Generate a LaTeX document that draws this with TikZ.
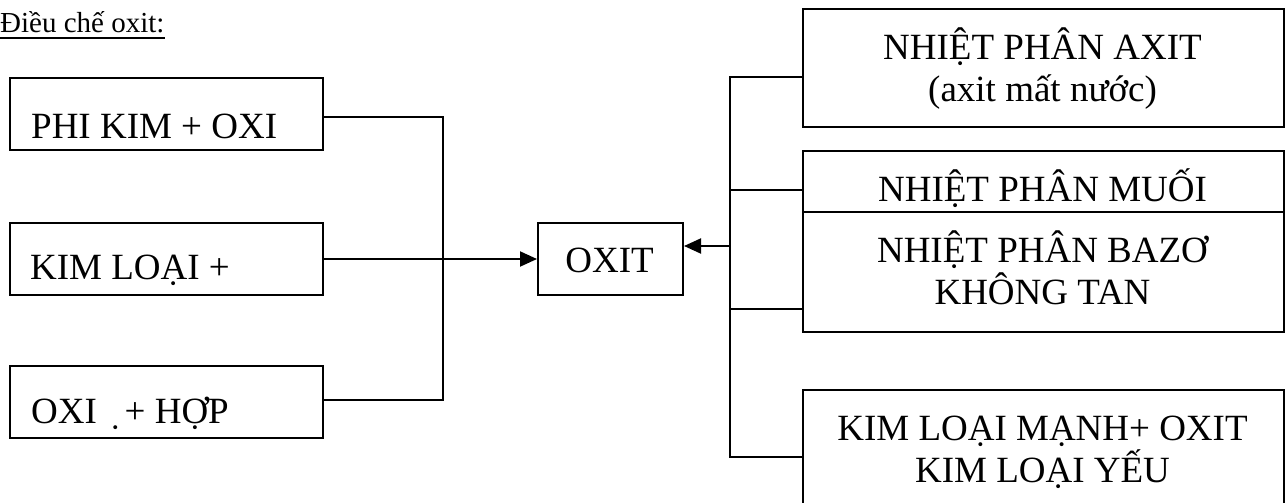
\documentclass[tikz,border=0pt]{standalone}
\usepackage{fontspec}
\setmainfont{Liberation Serif}
\usetikzlibrary{arrows.meta}
\tikzset{
  box/.style={draw, line width=2pt, inner sep=0pt, anchor=north west},
  wire/.style={line width=2pt, line cap=rect},
  arr/.style={line width=2pt, -{Triangle[length=17pt,width=15pt]}},
  lbl/.style={inner sep=0pt, font=\fontsize{37}{42}\selectfont},
  clbl/.style={lbl, anchor=base, align=center},
  llbl/.style={lbl, anchor=base west},
}
\begin{document}
\begin{tikzpicture}[x=1pt,y=-1pt]
\useasboundingbox (0,0) rectangle (1287,503);
% title
\node[inner sep=0pt, anchor=base west, font=\fontsize{29}{34}\selectfont] (title) at (0,33) {Điều chế oxit:};
\draw[line width=2.5pt] ([yshift=-5pt]title.base west) -- ([yshift=-5pt]title.base east);
% left boxes
\node[box, minimum width=313pt, minimum height=72pt] (b1) at (9,77) {};
\node[box, minimum width=313pt, minimum height=72pt] (b2) at (9,222) {};
\node[box, minimum width=313pt, minimum height=72pt] (b3) at (9,365) {};
\node[llbl] (t1) at (31,138) {PHI KIM + OXI};
\node[llbl] (t2) at (30,279) {KIM LOẠI +};
\node[llbl] (t3) at (31,423) {OXI \symbol{"00A0}\symbol{"0323} + HỢP};
% centre
\node[box, minimum width=145pt, minimum height=72pt] (ox) at (537,222) {};
\node[clbl] (tox) at (609.5,272) {OXIT};
% right boxes
\node[box, minimum width=481pt, minimum height=118pt] (ax) at (802,8) {};
\node[box, minimum width=481pt, minimum height=61pt] (mu) at (802,150) {};
\node[box, minimum width=481pt, minimum height=120pt] (bz) at (802,211) {};
\node[box, minimum width=481pt, minimum height=140pt] (kl) at (802,389) {};
\node[clbl] (tax) at (1042.5,101) {NHIỆT PHÂN AXIT\\(axit mất nước)};
\node[clbl] (tmu) at (1042.5,201) {NHIỆT PHÂN MUỐI};
\node[clbl] (tbz) at (1042.5,304) {NHIỆT PHÂN BAZƠ\\KHÔNG TAN};
\node[clbl] (tkl) at (1042.5,482) {KIM LOẠI MẠNH+ OXIT\\KIM LOẠI YẾU};
% junctions
\coordinate (jl1) at (443,117);
\coordinate (jl3) at (443,400);
\coordinate (jr1) at (730,77);
\coordinate (jr2) at (730,190);
\coordinate (jr3) at (730,309);
\coordinate (jr4) at (730,457);
\coordinate (jra) at (730,246);
% connectors
\draw[wire] (b1.east |- jl1) -- (jl1) -- (jl3) -- (b3.east |- jl3);
\draw[arr] (b2.east) -- (ox.west);
\draw[wire] (ax.west |- jr1) -- (jr1) -- (jr4) -- (kl.west |- jr4);
\draw[wire] (jr2) -- (mu.west |- jr2);
\draw[wire] (jr3) -- (bz.west |- jr3);
\draw[arr] (jra) -- (ox.east |- jra);
\end{tikzpicture}
\end{document}
